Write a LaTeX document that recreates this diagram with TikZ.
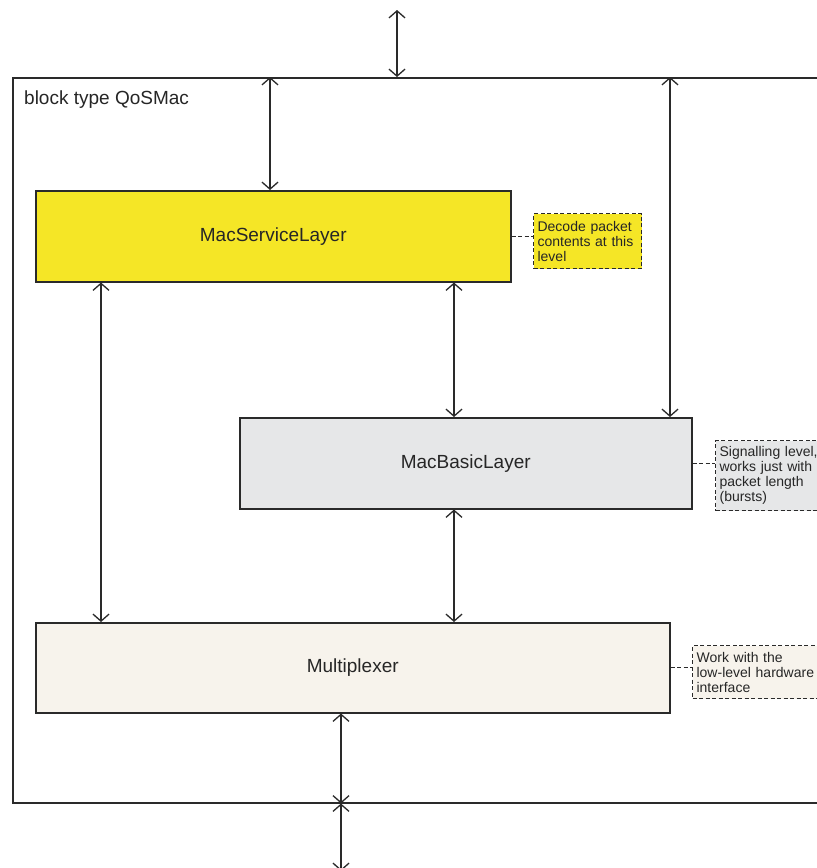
\documentclass[tikz,border=0pt]{standalone}
\usepackage{fontspec}
\setmainfont{Liberation Sans}
\usetikzlibrary{arrows.meta}
\definecolor{edge}{HTML}{2A2A2A}
\definecolor{svcfill}{HTML}{F5E626}
\definecolor{basicfill}{HTML}{E6E7E8}
\definecolor{muxfill}{HTML}{F7F3EC}
\tikzset{
  layerbox/.style={draw=edge, line width=1.5pt, anchor=north west, inner sep=0pt,
    font=\fontsize{19}{22}\selectfont, text=black!85},
  notebox/.style={draw=edge, dashed, dash pattern=on 4pt off 2.5pt, line width=1.2pt,
    anchor=north west, inner xsep=4pt, inner ysep=0pt, align=left,
    font=\fontsize{14}{15}\selectfont, text=black!85},
  notelink/.style={draw=edge, dashed, dash pattern=on 4pt off 2.5pt, line width=1.2pt},
  link/.style={draw=edge, line width=1.3pt,
    {Straight Barb[length=7pt,width=16pt,line width=1.3pt]}-{Straight Barb[length=7pt,width=16pt,line width=1.3pt]}},
  framebox/.style={draw=edge, line width=1.5pt, anchor=north west, inner sep=0pt},
}
\begin{document}
\begin{tikzpicture}[x=1pt, y=-1pt]
  \clip (0,0) rectangle (817,868);
  \fill[white] (0,0) rectangle (817,868);

  % enclosing block
  \node[framebox, minimum width=830pt, minimum height=725pt] (frame) at (12,77) {};
  \node[anchor=base west, inner sep=0pt, font=\fontsize{19}{22}\selectfont, text=black!85]
    (title) at (24,104) {block type QoSMac};

  % layers
  \node[layerbox, fill=svcfill, minimum width=475pt, minimum height=91pt] (svc) at (35,190) {MacServiceLayer};
  \node[layerbox, fill=basicfill, minimum width=452pt, minimum height=91pt] (basic) at (239,417) {MacBasicLayer};
  \node[layerbox, fill=muxfill, minimum width=634pt, minimum height=90pt] (mux) at (35,622) {Multiplexer};

  % comments
  \node[notebox, fill=svcfill, minimum width=108pt, minimum height=55pt, text width=100pt] (n1) at (533,213)
    {Decode packet\\contents at this\\level};
  \node[notebox, fill=basicfill, minimum width=116pt, minimum height=70pt, text width=108pt] (n2) at (715,440)
    {Signalling level,\\works just with\\packet length\\(bursts)};
  \node[notebox, fill=muxfill, minimum width=132pt, minimum height=53pt, text width=124pt] (n3) at (692,645)
    {Work with the\\low-level hardware\\interface};

  \draw[notelink] (svc.east) -- (svc.east -| n1.west);
  \draw[notelink] (basic.east) -- (basic.east -| n2.west);
  \draw[notelink] (mux.east) -- (mux.east -| n3.west);

  % ports and channels
  \coordinate (ptop) at (397,10);
  \coordinate (pbot) at (341,871);
  \coordinate (c270) at (270,0);
  \coordinate (c670) at (670,0);
  \coordinate (c101) at (101,0);
  \coordinate (c454) at (454,0);

  \draw[link] (ptop) -- (ptop |- frame.north);
  \draw[link] (frame.north -| c270) -- (svc.north -| c270);
  \draw[link] (frame.north -| c670) -- (basic.north -| c670);
  \draw[link] (svc.south -| c101) -- (mux.north -| c101);
  \draw[link] (svc.south -| c454) -- (basic.north -| c454);
  \draw[link] (basic.south -| c454) -- (mux.north -| c454);
  \draw[link] (mux.south -| pbot) -- (frame.south -| pbot);
  \draw[link] (frame.south -| pbot) -- (pbot);
\end{tikzpicture}
\end{document}
